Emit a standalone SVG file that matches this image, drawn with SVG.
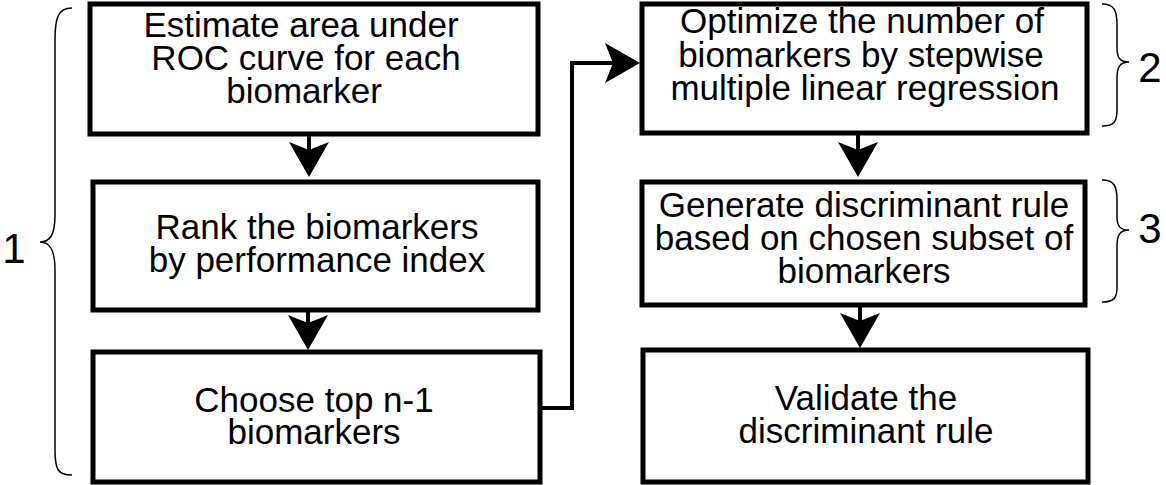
<svg xmlns="http://www.w3.org/2000/svg" width="1166" height="485" viewBox="0 0 1166 485">
<style>
.box{fill:#fff;stroke:#000;stroke-width:5}
.t{font-family:"Liberation Sans",Arial,sans-serif;font-size:35px;fill:#000;text-anchor:middle}
.num{font-family:"Liberation Sans",Arial,sans-serif;font-size:42px;fill:#000;text-anchor:middle}
.con{fill:none;stroke:#000;stroke-width:4}
.brace{fill:none;stroke:#000;stroke-width:1.5}
</style>
<defs>
<marker id="ah" viewBox="-9 -21 37 42" refX="0" refY="0" markerWidth="37" markerHeight="42" orient="auto" markerUnits="userSpaceOnUse">
<path d="M27,0 L-8,-20 L0,0 L-8,20 Z" fill="#000"/>
</marker>
</defs>
<rect width="1166" height="485" fill="#fff"/>
<g id="connectors">
<path class="con" d="M309,136 L309,150" marker-end="url(#ah)"/>
<path class="con" d="M308,312 L308,323" marker-end="url(#ah)"/>
<path class="con" d="M858,135 L858,150" marker-end="url(#ah)"/>
<path class="con" d="M860,307 L860,321" marker-end="url(#ah)"/>
<path class="con" d="M540,408 L572,408 L572,63 L613,63" marker-end="url(#ah)"/>
</g>
<g id="n1">
<rect class="box" x="90" y="4" width="448" height="130"/>
<text class="t" x="301" y="37">Estimate area under</text>
<text class="t" x="306" y="70">ROC curve for each</text>
<text class="t" x="304" y="103">biomarker</text>
</g>
<g id="n2">
<rect class="box" x="93" y="182" width="445" height="128"/>
<text class="t" x="317" y="239">Rank the biomarkers</text>
<text class="t" x="317" y="272">by performance index</text>
</g>
<g id="n3">
<rect class="box" x="93" y="352" width="447" height="130"/>
<text class="t" x="314" y="412">Choose top n-1</text>
<text class="t" x="314" y="444">biomarkers</text>
</g>
<g id="n4">
<rect class="box" x="642" y="4" width="445" height="129"/>
<text class="t" x="862" y="33">Optimize the number of</text>
<text class="t" x="861" y="67">biomarkers by stepwise</text>
<text class="t" x="865" y="100">multiple linear regression</text>
</g>
<g id="n5">
<rect class="box" x="642" y="182" width="443" height="123"/>
<text class="t" x="864" y="217">Generate discriminant rule</text>
<text class="t" x="864" y="250">based on chosen subset of</text>
<text class="t" x="864" y="283">biomarkers</text>
</g>
<g id="n6">
<rect class="box" x="643" y="350" width="445" height="132"/>
<text class="t" x="866" y="410">Validate the</text>
<text class="t" x="866" y="443">discriminant rule</text>
</g>
<g id="brace1">
<path class="brace" d="M72,8 C58,8 55,18 55,40 L55,215 C55,235 50,242 40,242 C50,242 55,250 55,270 L55,450 C55,470 58,475 72,475"/>
<text class="num" x="14" y="263">1</text>
</g>
<g id="brace2">
<path class="brace" d="M1102,4 C1114,4 1117,10 1117,25 L1117,48 C1117,58 1120,62 1129,62 C1120,62 1117,67 1117,78 L1117,110 C1117,122 1114,126 1102,126"/>
<text class="num" x="1150" y="82">2</text>
</g>
<g id="brace3">
<path class="brace" d="M1102,180 C1114,180 1117,186 1117,200 L1117,217 C1117,226 1120,230 1129,230 C1120,230 1117,235 1117,246 L1117,287 C1117,298 1114,302 1102,302"/>
<text class="num" x="1150" y="243">3</text>
</g>
</svg>
